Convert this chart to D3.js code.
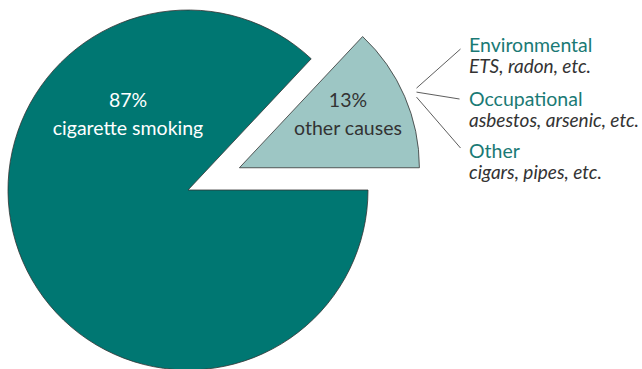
<!DOCTYPE html>
<html>
<head>
<meta charset="utf-8">
<script src="https://cdn.jsdelivr.net/npm/d3@7"></script>
<style>
  body { margin: 0; background: #fff; }
  svg { display: block; font-family: Lato, "Open Sans", sans-serif; }
</style>
</head>
<body>
<script>
// Data
const causes = ['other causes', 'cigarette smoking']
const shares = [13, 87]
const otherGroups = ['Environmental', 'Occupational', 'Other']
const otherExamples = ['ETS, radon, etc.', 'asbestos, arsenic, etc.', 'cigars, pipes, etc.']

const width = 642
const height = 369
const radius = 180
const cx = 188
const cy = 190
const explode = 56

const svg = d3.select('body').append('svg')
    .attr('width', width)
    .attr('height', height)

const g = svg.append('g')
    .attr('transform', `translate(${cx}, ${cy})`)

// pie starts so the small slice ends at 3 o'clock
const start = Math.PI / 2 - 2 * Math.PI * shares[0] / d3.sum(shares)
const pie = d3.pie()
    .sort(null)
    .startAngle(start)
    .endAngle(start + 2 * Math.PI)
const arcs = pie(shares)

const arc = d3.arc().innerRadius(0).outerRadius(radius)
const colors = ['#9dc6c4', '#007772']
const textColors = ['#333333', '#ffffff']

// offset along bisector for exploded slice
function offset(d, dist) {
    const a = (d.startAngle + d.endAngle) / 2
    return [Math.sin(a) * dist, -Math.cos(a) * dist]
}

const slices = g.selectAll('g.slice')
    .data(arcs)
    .join('g')
        .attr('class', 'slice')
        .attr('transform', (d, i) => {
            const o = i === 0 ? offset(d, explode) : [0, 0]
            return `translate(${o[0]}, ${o[1]})`
        })

slices.append('path')
    .attr('d', arc)
    .style('fill', (d, i) => colors[i])
    .style('stroke', '#333')
    .style('stroke-width', 0.8)

// slice labels (relative to pie centre)
const labelPos = [[160, -83], [-60, -83]]
slices.append('text')
    .attr('text-anchor', 'middle')
    .style('fill', (d, i) => textColors[i])
    .style('font-size', '19.5px')
    .each(function(d, i) {
        const t = d3.select(this)
        const o = i === 0 ? offset(d, explode) : [0, 0]
        const x = labelPos[i][0] - o[0]
        const y = labelPos[i][1] - o[1]
        t.append('tspan').attr('x', x).attr('y', y).text(shares[i] + '%')
        t.append('tspan').attr('x', x).attr('y', y + 28).text(causes[i])
    })

// leader lines from the small slice
const small = arcs[0]
const so = offset(small, explode)
const mid = (small.startAngle + small.endAngle) / 2
const tip = [cx + so[0] + Math.sin(mid) * (radius + 13), cy + so[1] - Math.cos(mid) * (radius + 13)]
const labelX = 469
const groupY = [52, 106, 158]
const lineEnds = [[tip[0] + 44, groupY[0] - 3], [tip[0] + 43, groupY[1] - 7], [tip[0] + 44, groupY[2] - 10]]
const lineStarts = [[tip[0], tip[1] - 3], [tip[0], tip[1] + 1], [tip[0], tip[1] + 6]]

svg.selectAll('line.leader')
    .data(otherGroups)
    .join('line')
        .attr('class', 'leader')
        .attr('x1', (d, i) => lineStarts[i][0])
        .attr('y1', (d, i) => lineStarts[i][1])
        .attr('x2', (d, i) => lineEnds[i][0])
        .attr('y2', (d, i) => lineEnds[i][1])
        .style('stroke', '#333')
        .style('stroke-width', 0.8)

const labels = svg.selectAll('g.group')
    .data(otherGroups)
    .join('g')
        .attr('class', 'group')

labels.append('text')
    .attr('x', labelX)
    .attr('y', (d, i) => groupY[i])
    .style('fill', '#1a7a75')
    .style('font-size', '19.5px')
    .text(d => d)

labels.append('text')
    .attr('x', labelX)
    .attr('y', (d, i) => groupY[i] + 21)
    .style('fill', '#333')
    .style('font-size', '19px')
    .style('font-style', 'italic')
    .text((d, i) => otherExamples[i])
</script>
</body>
</html>
